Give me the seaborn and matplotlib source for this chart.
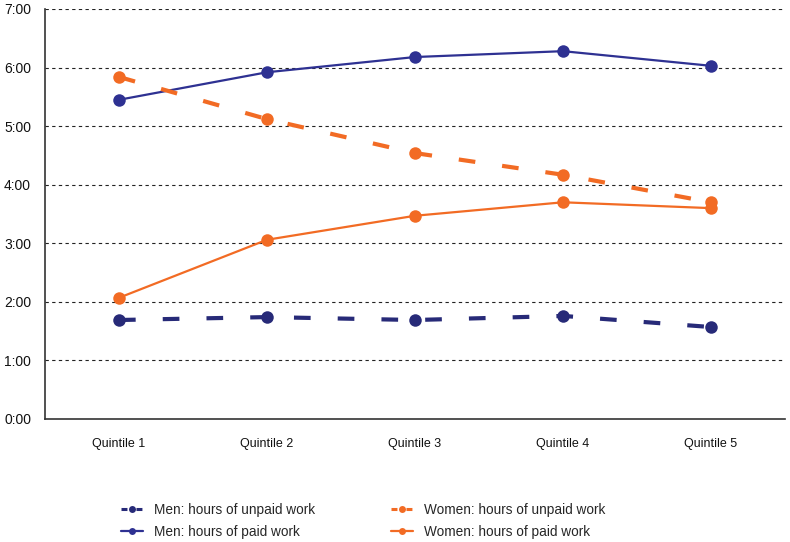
import matplotlib
matplotlib.use("Agg")
import matplotlib.pyplot as plt
import seaborn as sns
import pandas as pd
from matplotlib.lines import Line2D
from matplotlib.ticker import FixedLocator, FuncFormatter

categories = ["Quintile 1", "Quintile 2", "Quintile 3", "Quintile 4", "Quintile 5"]
men_unpaid = [1.69, 1.74, 1.69, 1.76, 1.57]
men_paid = [5.45, 5.92, 6.18, 6.28, 6.03]
women_unpaid = [5.84, 5.12, 4.54, 4.17, 3.70]
women_paid = [2.07, 3.06, 3.47, 3.70, 3.60]
series_names = ["Men: hours of unpaid work", "Men: hours of paid work",
                "Women: hours of unpaid work", "Women: hours of paid work"]
y_ticks = [0, 1, 2, 3, 4, 5, 6, 7]

sns.set_style("white")
plt.rcParams['font.family'] = ['Liberation Sans', 'DejaVu Sans']

NAVY_D = "#272a78"
NAVY = "#2e3192"
ORANGE = "#f26b24"

fig = plt.figure(figsize=(7.9, 5.42), dpi=100)
ax = fig.add_axes([45/790, 1-419/542, 740/790, 410/542])

x = list(range(len(categories)))
styles = [
    (men_unpaid, NAVY_D, (0, (4, 6.5)), 3.0),
    (men_paid, NAVY, "-", 1.6),
    (women_unpaid, ORANGE, (0, (4, 6.5)), 3.0),
    (women_paid, ORANGE, "-", 1.6),
]
for (vals, col, ls, lw), name in zip(styles, series_names):
    df = pd.DataFrame({"x": x, "y": vals})
    sns.lineplot(data=df, x="x", y="y", ax=ax, color=col, linewidth=lw,
                 marker="o", markersize=9, markeredgewidth=0,
                 markerfacecolor=col, legend=False)
    ax.lines[-1].set_linestyle(ls)
    ax.lines[-1].set_zorder(3)

ax.set_xlim(-0.5, 4.5)
ax.set_ylim(0, 7)
ax.yaxis.set_major_locator(FixedLocator(y_ticks))
ax.yaxis.set_major_formatter(FuncFormatter(lambda v, p: f"{int(round(v))}:00"))
ax.set_xticks([i + 0.5 for i in range(len(categories))])
ax.set_xticklabels([])
ax.set_xticks(x, minor=True)
ax.set_xticklabels(categories, minor=True)
ax.tick_params(axis="x", which="minor", length=0, labelsize=9, pad=14, labelcolor="#111111")
ax.tick_params(axis="x", which="major", length=7, width=1, direction="out", color="#333333")
ax.tick_params(axis="y", length=7, width=1, direction="out", labelsize=10, color="#333333",
               pad=3, labelcolor="#111111")
ax.set_xlabel("")
ax.set_ylabel("")
for yv in y_ticks[1:]:
    ax.axhline(yv, color="#222222", linestyle=(0, (3, 3)), linewidth=0.8, zorder=1)
for s in ["top", "right"]:
    ax.spines[s].set_visible(False)
for s in ["left", "bottom"]:
    ax.spines[s].set_color("#333333")
    ax.spines[s].set_linewidth(1.2)

handles = []
for (vals, col, ls, lw), name in zip(styles, series_names):
    dashed = ls != "-"
    handles.append(Line2D([0], [0], color=col,
                          linestyle=(0, (1.95, 2.95)) if dashed else "-",
                          linewidth=2.2 if dashed else 1.6, marker="o", markersize=5,
                          markeredgewidth=0, markerfacecolor=col, label=name))
fig.legend(handles=handles, loc="lower left", bbox_to_anchor=(117/790, -0.002),
           ncol=2, frameon=False, fontsize=9.8, handlelength=1.6,
           columnspacing=5.6, labelspacing=0.6, handletextpad=0.8,
           borderaxespad=0.0, borderpad=0.3)

fig.savefig("out.png", dpi=100)
